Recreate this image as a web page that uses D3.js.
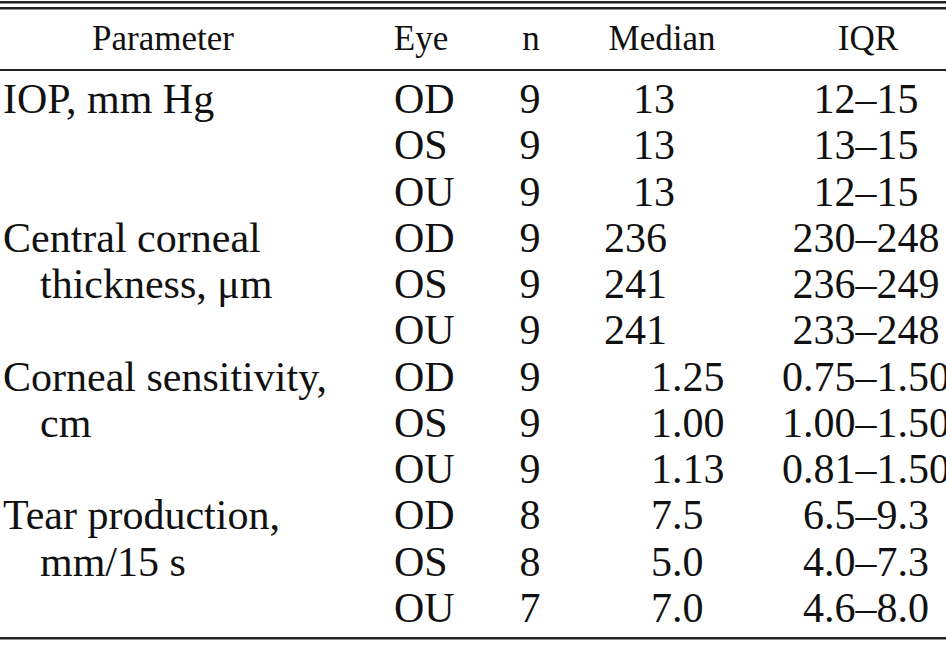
<!DOCTYPE html>
<html><head><meta charset="utf-8">
<script src="https://cdn.jsdelivr.net/npm/d3@7"></script>
<style>body{margin:0;background:#fff}svg{display:block}</style>
</head><body>
<script>
const headers = ["Parameter","Eye","n","Median","IQR"];
const paramLines = ["IOP, mm Hg","","","Central corneal","thickness, μm","","Corneal sensitivity,","cm","","Tear production,","mm/15 s",""];
const eyes = ["OD","OS","OU","OD","OS","OU","OD","OS","OU","OD","OS","OU"];
const nValues = [9,9,9,9,9,9,9,9,9,8,8,7];
const medians = ["13","13","13","236","241","241","1.25","1.00","1.13","7.5","5.0","7.0"];
const iqrs = ["12–15","13–15","12–15","230–248","236–249","233–248","0.75–1.50","1.00–1.50","0.81–1.50","6.5–9.3","4.0–7.3","4.6–8.0"];

const W=946,H=650;
const svg=d3.select("body").append("svg").attr("width",W).attr("height",H);
const font="'Liberation Serif','Times New Roman',serif";
const y=d3.scalePoint().domain(d3.range(eyes.length)).range([113,622]);
const rule=(yy,w)=>svg.append("rect").attr("x",0).attr("y",yy).attr("width",W).attr("height",w).attr("fill","#222");
rule(1,2.5);rule(7,2.5);rule(69,2);rule(637,2.5);

const hx=[163,421,531,662,868];
svg.selectAll("text.h").data(headers).join("text")
 .attr("x",(d,i)=>hx[i]).attr("y",50).attr("text-anchor","middle")
 .attr("font-family",font).attr("font-size",35).attr("fill","#111").text(d=>d);

const g=svg.append("g").attr("font-family",font).attr("font-size",42).attr("fill","#111");
g.selectAll("text.p").data(paramLines).join("text")
 .attr("x",(d,i)=>(i===4||i===7||i===10)?40:3).attr("y",(d,i)=>y(i)).text(d=>d);
g.selectAll("text.e").data(eyes).join("text")
 .attr("x",394).attr("y",(d,i)=>y(i)).text(d=>d);
g.selectAll("text.n").data(nValues).join("text")
 .attr("x",530).attr("y",(d,i)=>y(i)).attr("text-anchor","middle").text(d=>d);
g.selectAll("text.m").data(medians).join("text")
 .attr("x",(d,i)=>i<3?633:i<6?604:651).attr("y",(d,i)=>y(i)).text(d=>d);
g.selectAll("text.q").data(iqrs).join("text")
 .attr("x",866).attr("y",(d,i)=>y(i)).attr("text-anchor","middle").text(d=>d);
</script>
</body></html>
